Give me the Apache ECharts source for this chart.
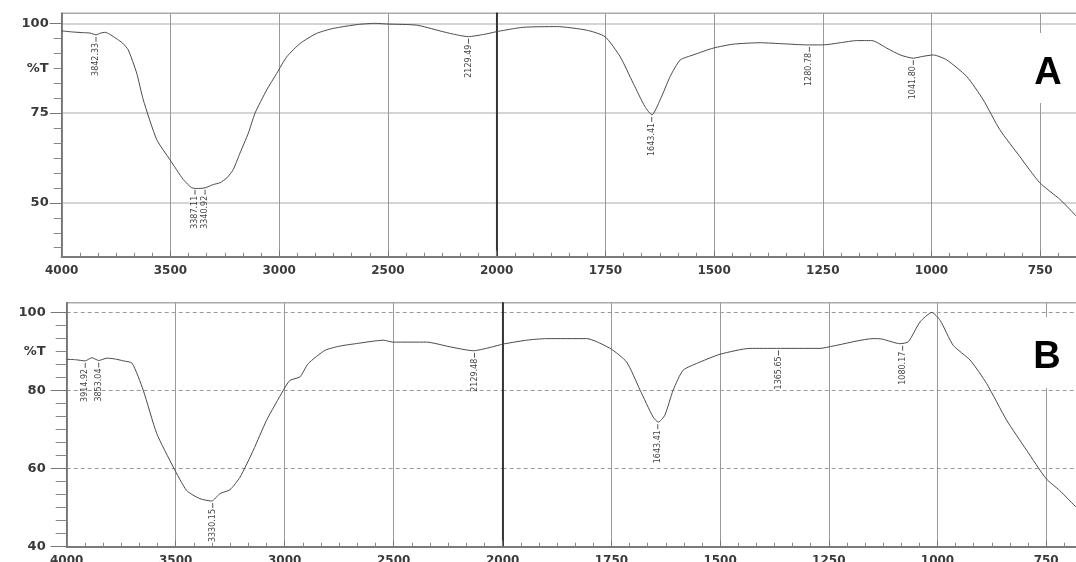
<!DOCTYPE html>
<html><head><meta charset="utf-8">
<script src="https://cdn.jsdelivr.net/npm/echarts@6/dist/echarts.min.js"></script>
<style>html,body{margin:0;padding:0;background:#fff}#c{width:1076px;height:562px}</style>
</head><body><div id="c"></div>
<script>
// ---------- DATA ----------
const wavenumberA = [4000,3950,3900,3870,3842,3820,3800,3780,3750,3720,3694,3655,3625,3563,3502,3441,3402,3370,3340,3303,3272,3240,3211,3180,3142,3111,3057,3011,2965,2904,2828,2751,2636,2560,2498,2368,2261,2200,2131,2060,2000,1939,1862,1793,1751,1716,1686,1659,1643,1624,1601,1578,1548,1502,1456,1394,1340,1287,1249,1210,1172,1137,1103,1072,1042,1020,996,965,919,881,843,797,751,704,667];
const transmittanceA = [97.9,97.6,97.4,97.3,96.8,97.3,97.5,97.0,95.8,94.5,92.6,86.1,78.7,67.6,62.0,56.5,54.2,54.0,54.2,55.1,55.6,57.0,59.3,63.9,69.4,75.0,81.5,86.1,90.7,94.4,97.2,98.6,99.7,100.0,99.8,99.5,97.9,97.0,96.3,96.9,97.7,98.9,99.1,98.1,96.3,90.7,83.3,76.8,74.5,78.7,85.2,89.8,91.2,93.1,94.2,94.6,94.3,94.0,94.0,94.6,95.2,95.2,93.1,91.2,90.3,90.8,91.2,89.8,85.2,78.7,70.4,62.9,55.6,50.9,46.3];
const peakWavenumberA = [3842.33,3387.11,3340.92,2129.49,1643.41,1280.78,1041.80];
const peakTransmittanceA = [96.8,54.2,54.2,96.3,74.5,94.0,90.3];

const wavenumberB = [4000,3960,3915,3885,3853,3815,3780,3740,3700,3649,3587,3511,3450,3389,3335,3297,3251,3205,3144,3083,3006,2976,2930,2892,2815,2746,2662,2600,2548,2502,2349,2242,2135,2000,1945,1899,1807,1753,1715,1684,1654,1642,1627,1608,1585,1546,1500,1431,1370,1270,1240,1148,1128,1086,1067,1040,1013,994,964,925,887,841,795,750,719,682];
const transmittanceB = [88.0,87.9,87.6,88.4,87.7,88.3,88.1,87.6,87.0,80.1,69.0,60.4,54.4,52.3,51.7,53.6,54.6,57.8,64.7,72.4,80.1,82.6,83.5,86.9,90.3,91.4,92.1,92.6,92.9,92.4,92.4,91.2,90.2,91.9,92.9,93.3,93.3,90.8,87.3,80.1,73.2,71.9,73.7,80.1,85.2,87.3,89.3,90.8,90.8,90.8,91.4,93.3,93.2,92.0,92.5,97.6,100.0,98.0,91.6,87.8,81.8,72.4,64.7,57.4,54.4,50.2];
const peakWavenumberB = [3914.92,3853.04,3330.15,2129.48,1643.41,1365.65,1080.17];
const peakTransmittanceB = [87.6,87.7,51.7,90.2,71.9,90.8,92.0];

const xMajorLeft = [4000,3500,3000,2500];
const xMajorRight = [2000,1750,1500,1250,1000,750];
const yMajorA = [50,75,100];
const yMajorB = [40,60,80,100];
const yUnitLabel = '%T';
const panelLetters = ['A','B'];

// ---------- LAYOUT ----------
const panels = [
  {wn: wavenumberA, t: transmittanceA, pw: peakWavenumberA, pt: peakTransmittanceA, majors: yMajorA,
   left: 61.7, split: 496.7, top: 13.3, height: 243.4, yMin: 35, yMax: 102.8, step: 25, unitPos: 87.5,
   labelMargin: 13, majorTick: 12, minorTick: 8,
   hLine: {color: '#c6c6c6', width: 1.5, type: 'solid'},
   letter: {x: 1048, y: 74, box: [1028, 33, 50, 70]}},
  {wn: wavenumberB, t: transmittanceB, pw: peakWavenumberB, pt: peakTransmittanceB, majors: yMajorB,
   left: 66.7, split: 502.7, top: 302.7, height: 244, yMin: 40, yMax: 102.5, step: 20, unitPos: 90,
   labelMargin: 21, majorTick: 16, minorTick: 11,
   hLine: {color: '#9a9a9a', width: 1, type: [4, 3]},
   letter: {x: 1047, y: 358, box: [1028, 317, 50, 71]}}
];
const px250 = 108.7;

const grid = [], xAxis = [], yAxis = [], series = [], graphic = [];
const labelFont = {fontFamily: 'DejaVu Sans', fontWeight: 'bold', color: '#3a3a3a'};

panels.forEach((p, k) => {
  const gi = grid.length;
  grid.push({left: p.left, top: p.top, width: p.split - p.left, height: p.height,
    show: true, borderColor: '#aaaaaa', borderWidth: 1.5, backgroundColor: 'transparent', outerBoundsMode: 'none'});
  grid.push({left: p.split, top: p.top, width: 1500 / 250 * px250, height: p.height,
    show: true, borderColor: '#aaaaaa', borderWidth: 1.5, backgroundColor: 'transparent', outerBoundsMode: 'none'});

  const xCommon = {
    type: 'value', inverse: true, position: 'bottom',
    axisLine: {show: true, onZero: false, lineStyle: {color: '#7a7a7a', width: 2}},
    axisTick: {show: true, inside: true, length: 6, lineStyle: {color: '#777'}},
    minorTick: {show: true, splitNumber: 6, length: 4, lineStyle: {color: '#888'}},
    splitLine: {show: true, lineStyle: {color: '#9a9a9a', width: 1}}
  };
  const xi = xAxis.length;
  xAxis.push(Object.assign({}, xCommon, {gridIndex: gi, min: 2000, max: 4000, interval: 500,
    axisLabel: Object.assign({fontSize: 12, margin: 8, customValues: xMajorLeft, formatter: v => String(v)}, labelFont)}));
  xAxis.push(Object.assign({}, xCommon, {gridIndex: gi + 1, min: 500, max: 2000, interval: 250,
    axisLabel: Object.assign({fontSize: 12, margin: 8, customValues: xMajorRight, formatter: v => String(v)}, labelFont)}));

  const minors = [];
  for (let v = p.majors[0] - p.step; v <= p.yMax; v += p.step / 6) {
    if (v >= p.yMin - 1e-6 && !p.majors.some(m => Math.abs(m - v) < 1e-6)) minors.push(+v.toFixed(4));
  }
  const labelVals = p.majors.concat([p.unitPos]);
  const yi = yAxis.length;
  yAxis.push({type: 'value', gridIndex: gi, min: p.yMin, max: p.yMax, position: 'left',
    axisLine: {show: true, onZero: false, lineStyle: {color: '#666', width: 1.5}},
    axisTick: {show: true, customValues: p.majors, length: p.majorTick, lineStyle: {color: '#777', width: 1}},
    axisLabel: Object.assign({fontSize: 13, margin: p.labelMargin, customValues: labelVals,
      formatter: v => Math.abs(v - p.unitPos) < 1e-6 ? yUnitLabel : String(v)}, labelFont),
    splitLine: {show: true, lineStyle: p.hLine}});
  yAxis.push({type: 'value', gridIndex: gi, min: p.yMin, max: p.yMax, position: 'left',
    axisLine: {show: false}, axisLabel: {show: false}, splitLine: {show: false},
    axisTick: {show: true, customValues: minors, length: p.minorTick, lineStyle: {color: '#888', width: 1}}});
  yAxis.push({type: 'value', gridIndex: gi + 1, min: p.yMin, max: p.yMax, position: 'left',
    axisLine: {show: true, onZero: false, lineStyle: {color: '#111', width: 1.5}},
    axisTick: {show: false, customValues: p.majors}, axisLabel: {show: false},
    splitLine: {show: true, lineStyle: p.hLine}});

  const pts = p.wn.map((w, i) => [w, p.t[i]]);
  const lineStyle = {color: '#4a4a4a', width: 1};
  series.push({type: 'line', xAxisIndex: xi, yAxisIndex: yi, data: pts.filter(d => d[0] >= 2000),
    showSymbol: false, smooth: 0.2, lineStyle, silent: true, z: 3});
  series.push({type: 'line', xAxisIndex: xi + 1, yAxisIndex: yi + 2, data: pts.filter(d => d[0] <= 2000),
    showSymbol: false, smooth: 0.2, lineStyle, silent: true, z: 3});

  const peaks = p.pw.map((w, i) => [w, p.pt[i], w.toFixed(2)]);
  const renderPeak = (params, api) => {
    const c = api.coord([api.value(0), api.value(1)]);
    const txt = params.context.labels[params.dataIndex];
    return {type: 'group', children: [
      {type: 'line', shape: {x1: c[0], y1: c[1] + 2, x2: c[0], y2: c[1] + 7}, style: {stroke: '#555', lineWidth: 1}},
      {type: 'text', x: c[0], y: c[1] + 8, rotation: Math.PI / 2,
       style: {text: txt, align: 'right', verticalAlign: 'middle', fontSize: 8, fontFamily: 'DejaVu Sans', fill: '#444'}}
    ]};
  };
  [[d => d[0] >= 2000, xi, yi], [d => d[0] < 2000, xi + 1, yi + 2]].forEach(([f, xa, ya]) => {
    const sel = peaks.filter(f);
    series.push({type: 'custom', xAxisIndex: xa, yAxisIndex: ya, data: sel.map(d => [d[0], d[1]]), z: 4, silent: true,
      renderItem: (params, api) => { params.context.labels = sel.map(d => d[2]); return renderPeak(params, api); }});
  });

  graphic.push({type: 'rect', shape: {x: p.letter.box[0], y: p.letter.box[1], width: p.letter.box[2], height: p.letter.box[3]},
    style: {fill: '#fff'}, z: 50});
  graphic.push({type: 'text', x: p.letter.x, y: p.letter.y, z: 51,
    style: {text: panelLetters[k], align: 'center', verticalAlign: 'middle', font: 'bold 38px "Liberation Sans", Arial', fill: '#000'}});
});

const chart = echarts.init(document.getElementById('c'), null, {renderer: 'canvas'});
chart.setOption({animation: false, backgroundColor: '#fff', grid, xAxis, yAxis, series, graphic});
</script></body></html>
